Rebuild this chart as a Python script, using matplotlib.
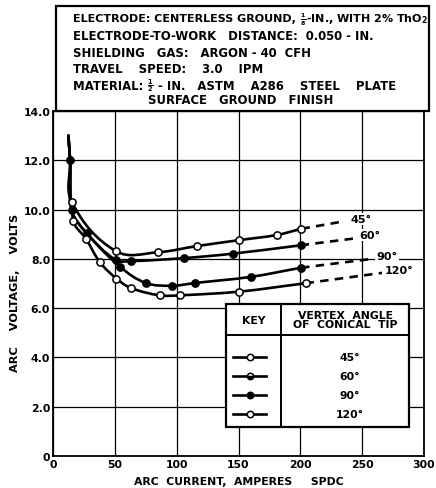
import matplotlib
matplotlib.use("Agg")
import matplotlib.pyplot as plt
from matplotlib.path import Path
from matplotlib.patches import PathPatch, Rectangle
import numpy as np

plt.rcParams['font.family'] = ['DejaVu Sans']
plt.rcParams['font.weight'] = 'bold'
plt.rcParams['mathtext.default'] = 'bf'

# ---- data: arc current (A) vs arc voltage (V) for each vertex angle ----
spike_current = [12.4, 13.8]
spike_voltage = [13.0, 12.0]

cur_45 = [15.1, 51.0, 85.2, 116.5, 150.6, 181.0, 200.9]
volt_45 = [10.32, 8.31, 8.27, 8.52, 8.76, 8.97, 9.22]
ext_45 = (236.0, 9.53)

cur_60 = [15.1, 27.2, 50.6, 63.3, 105.7, 145.2, 200.2]
volt_60 = [9.98, 9.05, 7.96, 7.91, 8.03, 8.21, 8.55]
ext_60 = (247.0, 8.85)

cur_90 = [54.5, 75.1, 96.3, 114.9, 160.0, 200.6]
volt_90 = [7.67, 7.02, 6.91, 7.02, 7.27, 7.64]
ext_90 = (258.0, 8.00)

cur_120 = [16.4, 26.7, 38.0, 51.3, 62.9, 86.3, 102.4, 150.5, 204.2]
volt_120 = [9.55, 8.81, 7.86, 7.20, 6.82, 6.52, 6.52, 6.67, 7.01]
ext_120 = (266.0, 7.43)

angle_labels = ["45°", "60°", "90°", "120°"]
x_ticks = [0, 50, 100, 150, 200, 250, 300]
y_ticks = [0, 2, 4, 6, 8, 10, 12, 14]
y_tick_labels = ["0", "2.0", "4.0", "6.0", "8.0", "10.0", "12.0", "14.0"]

# header lines: (text, small fraction or None, rest of line)
header_lines = [
    ("ELECTRODE: CENTERLESS GROUND, ", r"$\frac{1}{8}$", "-IN., WITH 2% ThO$_2$"),
    ("ELECTRODE-TO-WORK   DISTANCE:  0.050 - IN.", None, None),
    ("SHIELDING   GAS:   ARGON - 40  CFH", None, None),
    ("TRAVEL    SPEED:    3.0    IPM", None, None),
    ("MATERIAL: ", r"$\frac{1}{2}$", " - IN.   ASTM    A286    STEEL    PLATE"),
    ("SURFACE   GROUND   FINISH", None, None),
]

W, H = 436, 489
fig = plt.figure(figsize=(W / 100, H / 100), dpi=100)
ax = fig.add_axes([53 / W, 1 - 457 / H, 371 / W, 345 / H])
ax.set_xlim(0, 300)
ax.set_ylim(0, 14)

ax.set_xticks(x_ticks)
ax.set_xticklabels([str(v) for v in x_ticks], fontsize=7.8, fontweight='bold')
ax.set_yticks(y_ticks)
ax.set_yticklabels(y_tick_labels, fontsize=7.8, fontweight='bold')
ax.tick_params(length=0, pad=2)
ax.grid(True, color='black', linewidth=0.9, zorder=0)
ax.set_axisbelow(True)
for s in ax.spines.values():
    s.set_linewidth(1.3)

# axis scale in pixels per data unit, so smoothing works in visual space
SX = 371 / 300
SY = 345 / 14


def smooth_path(xs, ys, k=0.36):
    """Bezier path through the given points with chord-scaled tangents."""
    px = np.asarray(xs, float) * SX
    py = np.asarray(ys, float) * SY
    n = len(px)
    tang = []
    for i in range(n):
        a = max(i - 1, 0)
        b = min(i + 1, n - 1)
        d = np.array([px[b] - px[a], py[b] - py[a]])
        tang.append(d / np.hypot(*d))
    verts = [(xs[0], ys[0])]
    codes = [Path.MOVETO]
    for i in range(n - 1):
        L = np.hypot(px[i + 1] - px[i], py[i + 1] - py[i]) * k
        c1 = (px[i] + tang[i][0] * L, py[i] + tang[i][1] * L)
        c2 = (px[i + 1] - tang[i + 1][0] * L, py[i + 1] - tang[i + 1][1] * L)
        verts += [(c1[0] / SX, c1[1] / SY), (c2[0] / SX, c2[1] / SY),
                  (xs[i + 1], ys[i + 1])]
        codes += [Path.CURVE4] * 3
    return Path(verts, codes)


curves = [
    (spike_current + cur_45, spike_voltage + volt_45),
    (spike_current + cur_60, spike_voltage + volt_60),
    (spike_current + cur_60[:2] + cur_90, spike_voltage + volt_60[:2] + volt_90),
    (spike_current + cur_120, spike_voltage + volt_120),
]
for cx, cy in curves:
    ax.add_patch(PathPatch(smooth_path(cx, cy), fill=False, lw=1.9,
                           edgecolor='black', zorder=3, capstyle='round'))

# dashed extrapolations
for cx, cy, ext in [(cur_45, volt_45, ext_45), (cur_60, volt_60, ext_60),
                    (cur_90, volt_90, ext_90), (cur_120, volt_120, ext_120)]:
    ax.plot([cx[-1], ext[0]], [cy[-1], ext[1]], color='black', lw=1.9,
            dashes=(3.2, 2.4), zorder=3)

open_kw = dict(marker='o', ms=5.2, mfc='white', mec='black', mew=1.1,
               ls='none', zorder=4)
fill_kw = dict(marker='o', ms=5.2, mfc='black', mec='black', mew=1.1,
               ls='none', zorder=4)
ax.plot(spike_current[1:], spike_voltage[1:], **fill_kw)
ax.plot(cur_45, volt_45, **open_kw)
ax.plot(cur_60, volt_60, **fill_kw)
ax.plot(cur_90, volt_90, **fill_kw)
ax.plot(cur_120, volt_120, **open_kw)

# end-of-curve angle labels
label_pos = [(249, 9.62), (256, 8.97), (270, 8.12), (280, 7.55)]
for (lx, ly), txt in zip(label_pos, angle_labels):
    ax.text(lx, ly, txt, fontsize=8, fontweight='bold', ha='center',
            va='center', zorder=4,
            bbox=dict(boxstyle='square,pad=0.1', fc='white', ec='none'))

# key table
tr = ax.transAxes
x0, x1, xd = 0.466, 0.960, 0.615
y0, y1, yd = 0.084, 0.441, 0.351
ax.add_patch(Rectangle((x0, y0), x1 - x0, y1 - y0, transform=tr,
                       fc='white', ec='black', lw=1.6, zorder=6))
ax.plot([xd, xd], [y0, y1], transform=tr, color='black', lw=1.4, zorder=7)
ax.plot([x0, x1], [yd, yd], transform=tr, color='black', lw=1.4, zorder=7)
ax.text((x0 + xd) / 2, 0.394, "KEY", transform=tr, ha='center', va='center',
        fontsize=7.8, fontweight='bold', zorder=7)
ax.text((xd + x1) / 2, 0.396, "VERTEX  ANGLE\nOF  CONICAL  TIP", transform=tr,
        ha='center', va='center', fontsize=7.8, fontweight='bold',
        linespacing=0.95, zorder=7)
row_y = [0.287, 0.232, 0.177, 0.122]
key_fill = ['white', 'black', 'black', 'white']
key_style = ['full', 'bottom', 'full', 'full']
for ry, txt, fc, fs in zip(row_y, angle_labels, key_fill, key_style):
    ax.plot([0.485, 0.574], [ry, ry], transform=tr, color='black', lw=1.9,
            zorder=7)
    ax.plot([0.531], [ry], transform=tr, marker='o', ms=4.6, mfc=fc,
            mfcalt='white', fillstyle=fs, mec='black', mew=1.1, zorder=8)
    ax.text(0.80, ry, txt, transform=tr, ha='center', va='center',
            fontsize=7.8, fontweight='bold', zorder=7)

# header box
fig.patches.append(Rectangle((56 / W, 1 - 112 / H), 373 / W, 105 / H,
                             transform=fig.transFigure, fc='white',
                             ec='black', lw=1.6, zorder=1))

renderer = fig.canvas.get_renderer()
HEAD_FS = 8.4
line_y = [19.3, 36.7, 53.3, 69.3, 86.0, 100.5]
line_x = [73, 73, 73, 73, 73, 148]
FIRST_LINE_W = 355   # first line is squeezed to fit inside the box
for i, ((main, frac, rest), ly, lx) in enumerate(zip(header_lines, line_y,
                                                     line_x)):
    parts = [fig.text(lx / W, 1 - ly / H, main, fontsize=HEAD_FS,
                      fontweight='bold', ha='left', va='center')]
    if frac is not None:
        parts.append(fig.text(0, 1 - ly / H, frac, fontsize=HEAD_FS * 0.8,
                              fontweight='bold', ha='left', va='center'))
        parts.append(fig.text(0, 1 - ly / H, rest, fontsize=HEAD_FS,
                              fontweight='bold', ha='left', va='center'))

    def place(parts=parts, lx=lx):
        x = lx
        for p in parts:
            p.set_x(x / W)
            x += p.get_window_extent(renderer).width
        return x - lx

    width = place()
    if i == 0 and width > FIRST_LINE_W:
        scale = FIRST_LINE_W / width
        for p in parts:
            p.set_fontsize(p.get_fontsize() * scale)
        place()

fig.text(238.5 / W, 1 - 482 / H, "ARC  CURRENT,  AMPERES     SPDC",
         fontsize=7.8, fontweight='bold', ha='center', va='center')
fig.text(15 / W, 1 - 293 / H, "ARC    VOLTAGE,    VOLTS", rotation=90,
         fontsize=8.2, fontweight='bold', ha='center', va='center')

fig.savefig("out.png", dpi=100)
